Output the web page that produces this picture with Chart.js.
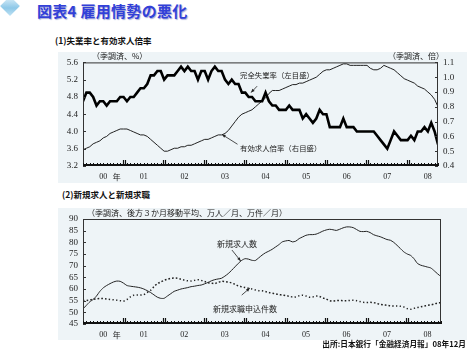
<!DOCTYPE html>
<html lang="ja">
<head>
<meta charset="UTF-8">
<title>図表4 雇用情勢の悪化</title>
<script src="https://cdn.jsdelivr.net/npm/chart.js"></script>
<style>
  body {
    margin: 0;
    width: 467px;
    height: 349px;
    background: #fff;
    position: relative;
    overflow: hidden;
    font-family: "Noto Sans CJK JP", sans-serif;
    color: #111;
  }
  .t { position: absolute; white-space: nowrap; line-height: 1; }
  .panel { position: absolute; background: #eef4f7; }
  .chart { position: absolute; }
  .icon {
    position: absolute; left: 3px; top: -1px; width: 14px; height: 14px;
    transform: rotate(45deg);
    background: linear-gradient(135deg, #e4f3fb, #8ec8e8 60%, #bfe2f4);
  }
  .title {
    left: 37px; top: 3px; font-size: 15px; font-weight: bold;
    letter-spacing: 0.3px; color: #3240d8;
    text-shadow: 1px 1px 1px #a8acd8;
  }
  .sub { font-size: 8.5px; font-weight: bold; }
  .unit { font-size: 8px; color: #222; }
  .note { font-size: 7.4px; color: #222; }
  .src { font-size: 7.7px; font-weight: bold; right: 1px; top: 340px; }
</style>
</head>
<body>
<div class="icon"></div>
<div class="t title">図表4 雇用情勢の悪化</div>

<div class="t sub" style="left:55px; top:36px;">(1)失業率と有効求人倍率</div>
<div class="panel" style="left:58px; top:52px; width:409px; height:131px;"></div>
<div class="chart" style="left:58px; top:52px; width:409px; height:131px;"><canvas id="rateChart"></canvas></div>
<div class="t unit" style="left:92px; top:52px;">（季調済、%）</div>
<div class="t unit" style="left:388px; top:52px;">（季調済、倍）</div>
<div class="t note" style="left:240px; top:71px;">完全失業率（左目盛）</div>
<div class="t note" style="left:240px; top:144px;">有効求人倍率（右目盛）</div>

<div class="t sub" style="left:62px; top:190px;">(2)新規求人と新規求職</div>
<div class="panel" style="left:58px; top:208px; width:409px; height:132px;"></div>
<div class="chart" style="left:58px; top:208px; width:409px; height:132px;"><canvas id="flowChart"></canvas></div>
<div class="t unit" style="left:87px; top:209px;">（季調済、後方３か月移動平均、万人／月、万件／月）</div>
<div class="t" style="left:217px; top:240px; font-size:8px; color:#222;">新規求人数</div>
<div class="t" style="left:213px; top:305px; font-size:8px; color:#222;">新規求職申込件数</div>

<div class="t src">出所:日本銀行「金融経済月報」08年12月</div>

<script>
// monthly series, Jan 2000 onward
const unemployment = [
  4.7, 4.9, 4.9, 4.8, 4.6, 4.7, 4.7, 4.6, 4.7, 4.7, 4.7, 4.8,
  4.8, 4.7, 4.8, 4.8, 4.9, 5.0, 5.0, 5.1, 5.3, 5.3, 5.4, 5.4,
  5.2, 5.3, 5.3, 5.3, 5.4, 5.5, 5.4, 5.5, 5.4, 5.4, 5.2, 5.4,
  5.4, 5.2, 5.4, 5.5, 5.4, 5.4, 5.2, 5.1, 5.2, 5.1, 5.1, 4.9,
  4.9, 4.8, 4.8, 4.7, 4.7, 4.7, 4.9, 4.7, 4.6, 4.6, 4.5, 4.5,
  4.5, 4.6, 4.5, 4.5, 4.5, 4.3, 4.4, 4.3, 4.2, 4.3, 4.5, 4.4,
  4.4, 4.1, 4.1, 4.1, 4.1, 4.3, 4.1, 4.1, 4.1, 4.0, 4.0, 4.0,
  4.0, 4.0, 4.0, 3.9, 3.8, 3.7, 3.6, 3.8, 4.0, 3.9, 3.8, 3.8,
  3.8, 3.9, 3.8, 4.0, 4.0, 4.1, 4.0, 4.2, 4.0, 3.7
];
const jobRatio = [
  0.51, 0.52, 0.53, 0.55, 0.56, 0.57, 0.59, 0.60, 0.62, 0.63, 0.64, 0.65,
  0.65, 0.65, 0.64, 0.63, 0.62, 0.61, 0.61, 0.60, 0.58, 0.56, 0.54, 0.52,
  0.50, 0.50, 0.51, 0.52, 0.52, 0.53, 0.53, 0.54, 0.54, 0.55, 0.56, 0.57,
  0.58, 0.58, 0.59, 0.60, 0.61, 0.61, 0.62, 0.64, 0.67, 0.70, 0.73, 0.75,
  0.76, 0.77, 0.78, 0.80, 0.82, 0.84, 0.86, 0.89, 0.91, 0.91, 0.91, 0.92,
  0.93, 0.94, 0.95, 0.95, 0.96, 0.96, 0.97, 0.98, 0.99, 1.00, 1.02, 1.04,
  1.05, 1.05, 1.06, 1.07, 1.08, 1.09, 1.09, 1.08, 1.08, 1.08, 1.08, 1.08,
  1.08, 1.06, 1.05, 1.05, 1.06, 1.08, 1.07, 1.06, 1.05, 1.03, 1.01, 0.99,
  0.98, 0.97, 0.96, 0.94, 0.93, 0.92, 0.90, 0.88, 0.85, 0.80
];
const newOffers = [
  51.5, 53.0, 54.5, 55.5, 57.0, 59.0, 60.5, 61.5, 62.3, 63.0, 63.4, 63.3,
  62.5, 61.5, 61.2, 61.0, 60.8, 60.5, 60.0, 59.3, 58.5, 57.5, 56.5, 56.0,
  56.0, 57.0, 58.0, 59.0, 59.5, 60.0, 60.3, 60.6, 61.0, 61.2, 61.5, 61.7,
  62.2, 62.8, 63.5, 64.0, 64.3, 64.6, 65.5, 66.6, 68.0, 69.5, 71.0, 72.3,
  73.0, 72.8, 72.3, 72.2, 73.3, 74.5, 75.5, 76.2, 77.0, 78.0, 79.0, 80.2,
  80.6, 80.8, 80.2, 80.5, 81.6, 82.3, 83.0, 83.3, 83.3, 83.5, 84.1, 84.8,
  85.3, 85.6, 85.4, 85.1, 85.6, 86.2, 86.6, 86.6, 86.3, 85.5, 84.7, 84.6,
  84.7, 84.2, 83.3, 82.8, 82.4, 81.8, 81.2, 80.9, 80.0, 78.7, 77.3, 75.9,
  75.0, 74.4, 73.0, 71.0, 70.2, 69.8, 69.4, 69.0, 67.8, 66.5, 65.3
];
const newApplications = [
  55.0, 55.1, 55.3, 55.6, 55.8, 56.0, 55.9, 55.7, 55.5, 55.4, 55.2, 55.0,
  54.8, 55.5, 56.6, 57.3, 57.4, 57.4, 57.6, 58.5, 59.4, 61.0, 62.3, 63.0,
  63.7, 64.2, 64.6, 64.7, 64.6, 64.2, 63.8, 63.5, 63.4, 63.7, 64.0, 63.7,
  63.2, 62.7, 62.5, 62.3, 62.8, 63.3, 63.2, 63.0, 62.6, 62.0, 61.3, 61.0,
  60.6, 60.3, 60.0, 59.6, 59.3, 59.2, 58.9, 58.5, 58.2, 57.9, 57.6, 57.4,
  57.2, 56.9, 56.6, 56.6, 57.1, 57.3, 57.0, 56.5, 56.6, 57.0, 56.8, 56.2,
  55.7, 55.0, 54.8, 55.0, 55.1, 55.0, 55.0, 55.1, 55.2, 55.0, 54.6, 54.3,
  54.2, 54.3, 54.2, 53.8, 53.4, 53.2, 53.0, 52.8, 52.7, 52.7, 52.6, 52.3,
  51.6, 51.3, 51.7, 52.1, 52.4, 52.7, 53.0, 53.2, 53.6, 54.0, 54.1
];
const yearLabels = ['00', '01', '02', '03', '04', '05', '06', '07', '08'];
const rateTicks = [3.2, 3.6, 4.0, 4.4, 4.8, 5.2, 5.6];
const ratioTicks = [0.4, 0.5, 0.6, 0.7, 0.8, 0.9, 1.0, 1.1];
const flowTicks = [45, 50, 55, 60, 65, 70, 75, 80, 85, 90];

const serif = '"Liberation Serif", "DejaVu Serif", serif';
const ink = '#222';

// x axis: one label in the middle of each year, plus the 年 mark after 00
function yearAxis(maxMonth, height) {
  const labels = {};
  yearLabels.forEach((y, k) => { labels[6 + 12 * k] = y; });
  labels[10] = '年';
  return {
    type: 'linear', min: 0, max: maxMonth,
    grid: { display: false, drawTicks: false },
    border: { display: false },
    afterBuildTicks: s => { s.ticks = Object.keys(labels).map(v => ({ value: +v })); },
    afterFit: s => { s.height = height; },
    ticks: {
      autoSkip: false, maxRotation: 0, padding: 6, color: ink,
      font: ctx => ({ family: labels[ctx.tick && ctx.tick.value] === '年' ? '"Noto Sans CJK JP"' : serif, size: 8 }),
      callback: v => labels[v]
    }
  };
}

function valueAxis(pos, ticks, width, digits) {
  return {
    position: pos, min: ticks[0], max: ticks[ticks.length - 1],
    grid: { display: false, drawTicks: false },
    border: { display: false },
    afterBuildTicks: s => { s.ticks = ticks.map(v => ({ value: v })); },
    afterFit: s => { s.width = width; },
    ticks: {
      autoSkip: false, padding: 5, color: ink, font: { family: serif, size: 9 },
      callback: v => v.toFixed(digits)
    }
  };
}

// frame, inward tick marks, month ticks and pointer arrows
const framePlugin = {
  id: 'frame',
  afterDraw(chart, args, opts) {
    const { ctx, chartArea: a, scales } = chart;
    ctx.save();
    ctx.strokeStyle = '#333';
    ctx.lineWidth = 1;
    ctx.strokeRect(a.left + 0.5, a.top + 0.5, a.right - a.left - 1, a.bottom - a.top - 1);
    ctx.strokeStyle = '#111';
    ctx.lineWidth = 2;
    ctx.beginPath();
    ctx.moveTo(a.left, a.bottom - 1);
    ctx.lineTo(a.right, a.bottom - 1);
    ctx.stroke();

    const x = scales.x;
    for (let m = 0; m <= x.max; m++) {
      const px = Math.round(x.getPixelForValue(m)) + 0.5;
      ctx.beginPath();
      if (m % 12 === 0 && m > 0) {
        [px - 1, px + 1].forEach(p => { ctx.moveTo(p, a.bottom); ctx.lineTo(p, a.bottom - 6); });
        ctx.lineWidth = 1.2;
      } else {
        ctx.moveTo(px, a.bottom);
        ctx.lineTo(px, a.bottom - 3);
        ctx.lineWidth = 1;
      }
      ctx.stroke();
    }

    ctx.lineWidth = 1;
    ctx.strokeStyle = '#333';
    opts.axes.forEach(id => {
      const s = scales[id];
      s.ticks.forEach(t => {
        const py = Math.round(s.getPixelForValue(t.value)) + 0.5;
        ctx.beginPath();
        if (s.position === 'left') { ctx.moveTo(a.left, py); ctx.lineTo(a.left + 3, py); }
        else { ctx.moveTo(a.right - 3, py); ctx.lineTo(a.right, py); }
        ctx.stroke();
      });
    });

    ctx.strokeStyle = ink;
    ctx.fillStyle = ink;
    (opts.arrows || []).forEach(ar => {
      const s = scales[ar.axis];
      const x0 = x.getPixelForValue(ar.from[0]), y0 = s.getPixelForValue(ar.from[1]);
      const x1 = x.getPixelForValue(ar.to[0]), y1 = s.getPixelForValue(ar.to[1]);
      const ang = Math.atan2(y1 - y0, x1 - x0);
      ctx.lineWidth = 0.8;
      ctx.beginPath();
      ctx.moveTo(x0, y0);
      ctx.lineTo(x1, y1);
      ctx.stroke();
      ctx.beginPath();
      ctx.moveTo(x1, y1);
      ctx.lineTo(x1 - 4 * Math.cos(ang - 0.4), y1 - 4 * Math.sin(ang - 0.4));
      ctx.lineTo(x1 - 4 * Math.cos(ang + 0.4), y1 - 4 * Math.sin(ang + 0.4));
      ctx.closePath();
      ctx.fill();
    });
    ctx.restore();
  }
};

const points = arr => arr.map((v, i) => ({ x: i, y: v }));

new Chart(document.getElementById('rateChart'), {
  type: 'line',
  data: {
    datasets: [
      { data: points(unemployment), yAxisID: 'y', borderColor: '#000', borderWidth: 2.6, pointRadius: 0, tension: 0 },
      { data: points(jobRatio), yAxisID: 'y1', borderColor: '#222', borderWidth: 1, pointRadius: 0, tension: 0 }
    ]
  },
  options: {
    responsive: true,
    maintainAspectRatio: false,
    animation: false,
    layout: { padding: { top: 10 } },
    scales: {
      x: yearAxis(unemployment.length - 1, 17),
      y: valueAxis('left', rateTicks, 25, 1),
      y1: valueAxis('right', ratioTicks, 29, 1)
    },
    plugins: {
      legend: { display: false },
      tooltip: { enabled: false },
      frame: {
        axes: ['y', 'y1'],
        arrows: [
          { axis: 'y', from: [51.5, 5.05], to: [49.7, 4.9] },
          { axis: 'y1', from: [45.7, 0.547], to: [41.1, 0.613] }
        ]
      }
    }
  },
  plugins: [framePlugin]
});

new Chart(document.getElementById('flowChart'), {
  type: 'line',
  data: {
    datasets: [
      { data: points(newOffers), borderColor: '#222', borderWidth: 1, pointRadius: 0, tension: 0.2 },
      { data: points(newApplications), borderColor: '#222', borderWidth: 1.5, borderDash: [1.5, 2.2], pointRadius: 0, tension: 0.2 }
    ]
  },
  options: {
    responsive: true,
    maintainAspectRatio: false,
    animation: false,
    layout: { padding: { top: 11, right: 26 } },
    scales: {
      x: yearAxis(newOffers.length - 1, 16),
      y: valueAxis('left', flowTicks, 25, 0)
    },
    plugins: {
      legend: { display: false },
      tooltip: { enabled: false },
      frame: {
        axes: ['y'],
        arrows: [
          { axis: 'y', from: [44.1, 76.7], to: [46.7, 72.0] },
          { axis: 'y', from: [47.0, 57.4], to: [49.4, 60.4] }
        ]
      }
    }
  },
  plugins: [framePlugin]
});
</script>
</body>
</html>
